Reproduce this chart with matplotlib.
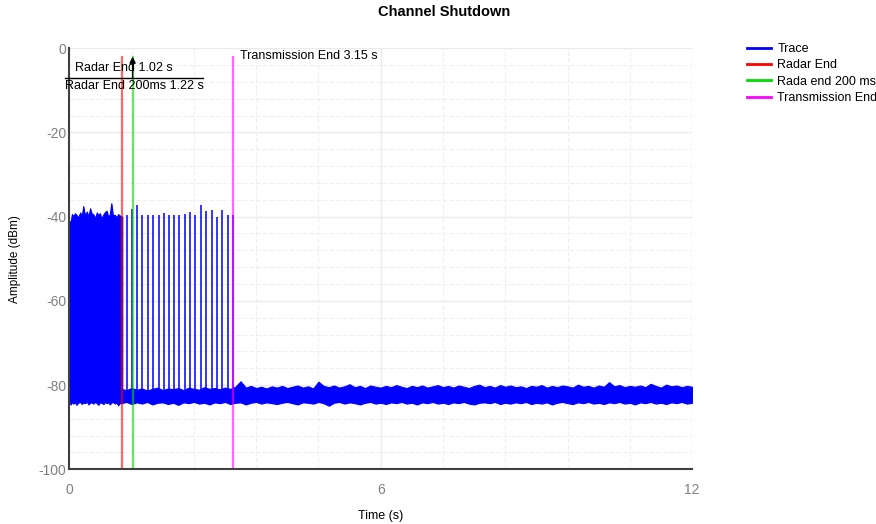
import matplotlib
matplotlib.use("Agg")
import matplotlib.pyplot as plt
from matplotlib.lines import Line2D
from matplotlib.ticker import MultipleLocator

plt.rcParams["font.family"] = ["Liberation Sans", "DejaVu Sans"]
plt.rcParams["axes.unicode_minus"] = False

# ---- data ----
dense_t = [0.00, 0.03, 0.05, 0.08, 0.11, 0.14, 0.17, 0.21, 0.24, 0.27, 0.30,
           0.34, 0.37, 0.40, 0.43, 0.46, 0.50, 0.53, 0.56, 0.59, 0.62, 0.66,
           0.69, 0.72, 0.75, 0.78, 0.81, 0.84, 0.88, 0.91, 0.94, 0.98, 1.02]
dense_top = [-41.2, -41.0, -39.4, -39.8, -39.2, -39.6, -40.2, -39.0, -39.8,
             -37.5, -39.6, -38.8, -40.0, -38.0, -39.2, -39.4, -40.3, -39.0,
             -39.6, -39.2, -40.4, -39.4, -38.9, -38.6, -40.0, -39.5, -36.8,
             -39.6, -39.6, -40.2, -39.4, -39.8, -40.0]
dense_bot = [-84.2, -84.6, -84.0, -84.4, -84.1, -84.7, -84.2, -84.0, -84.5,
             -84.1, -84.3, -84.0, -84.6, -84.2, -84.1, -84.4, -84.0, -84.3,
             -84.7, -84.1, -84.2, -84.5, -84.0, -84.3, -84.1, -84.6, -84.2,
             -84.0, -84.4, -84.1, -84.8, -84.2, -84.3]

floor_t = [1.0, 1.1, 1.2, 1.3, 1.4, 1.5, 1.6, 1.7, 1.8, 1.9,
           2.0, 2.1, 2.2, 2.3, 2.4, 2.5, 2.6, 2.7, 2.8, 2.9,
           3.0, 3.1, 3.2, 3.3, 3.4, 3.5, 3.6, 3.7, 3.8, 3.9,
           4.0, 4.1, 4.2, 4.3, 4.4, 4.5, 4.6, 4.7, 4.8, 4.9,
           5.0, 5.1, 5.2, 5.3, 5.4, 5.5, 5.6, 5.7, 5.8, 5.9,
           6.0, 6.1, 6.2, 6.3, 6.4, 6.5, 6.6, 6.7, 6.8, 6.9,
           7.0, 7.1, 7.2, 7.3, 7.4, 7.5, 7.6, 7.7, 7.8, 7.9,
           8.0, 8.1, 8.2, 8.3, 8.4, 8.5, 8.6, 8.7, 8.8, 8.9,
           9.0, 9.1, 9.2, 9.3, 9.4, 9.5, 9.6, 9.7, 9.8, 9.9,
           10.0, 10.1, 10.2, 10.3, 10.4, 10.5, 10.6, 10.7, 10.8, 10.9,
           11.0, 11.1, 11.2, 11.3, 11.4, 11.5, 11.6, 11.7, 11.8, 11.9,
           12.0]
floor_top = [-80.9, -81.2, -80.7, -81.1, -80.8, -81.3, -80.9, -80.6, -81.2, -80.8,
             -81.0, -80.7, -81.2, -80.6, -80.9, -81.1, -80.5, -80.9, -80.7, -81.0,
             -80.6, -80.9, -80.4, -79.1, -80.6, -80.2, -80.7, -80.4, -80.8, -80.3,
             -80.6, -80.2, -80.7, -80.4, -80.1, -80.6, -80.3, -80.8, -79.2, -80.2,
             -80.5, -80.1, -80.6, -80.3, -79.8, -80.5, -80.2, -80.7, -80.1, -80.4,
             -80.6, -80.2, -80.5, -80.0, -80.4, -80.7, -80.2, -80.5, -80.1, -80.6,
             -80.3, -80.0, -80.5, -80.2, -80.6, -80.1, -80.4, -80.7, -80.2, -79.9,
             -80.5, -80.2, -80.6, -80.0, -80.4, -80.1, -80.5, -80.3, -80.7, -80.2,
             -80.4, -80.0, -80.6, -80.2, -80.5, -80.1, -80.3, -80.6, -79.9, -80.4,
             -80.2, -80.6, -80.1, -80.4, -79.3, -80.3, -80.0, -80.5, -80.2, -80.4,
             -80.1, -80.5, -79.7, -80.2, -80.6, -79.9, -80.3, -80.1, -80.5, -80.2,
             -80.4]
floor_bot = [-84.3, -84.0, -84.5, -84.1, -84.4, -84.0, -84.6, -84.2, -84.1, -84.5,
             -84.2, -84.7, -84.1, -84.3, -84.0, -84.4, -84.2, -84.6, -84.1, -84.3,
             -84.0, -84.5, -84.2, -84.1, -84.6, -84.2, -84.0, -84.4, -84.1, -84.3,
             -84.5, -84.2, -84.0, -84.3, -84.6, -84.1, -84.2, -84.4, -84.0, -84.3,
             -84.9, -84.2, -84.0, -84.4, -84.1, -84.3, -84.6, -84.2, -84.0, -84.4,
             -84.2, -84.5, -84.1, -84.3, -84.0, -84.4, -84.2, -84.6, -84.1, -84.3,
             -84.0, -84.4, -84.2, -84.5, -84.1, -84.3, -84.0, -84.4, -84.6, -84.2,
             -84.1, -84.3, -84.0, -84.5, -84.2, -84.4, -84.1, -84.3, -84.0, -84.5,
             -84.2, -84.4, -84.1, -84.6, -84.2, -84.0, -84.3, -84.5, -84.1, -84.3,
             -84.0, -84.4, -84.2, -84.5, -84.1, -84.3, -84.0, -84.4, -84.2, -84.6,
             -84.1, -84.3, -84.0, -84.4, -84.2, -84.5, -84.1, -84.3, -84.0, -84.4,
             -84.2]

spike_t = [1.11, 1.21, 1.31, 1.41, 1.51, 1.61, 1.72, 1.82, 1.92, 2.02, 2.12,
           2.22, 2.33, 2.43, 2.53, 2.63, 2.74, 2.84, 2.94, 3.05, 3.15]
spike_top = [-39.7, -38.1, -37.3, -39.5, -39.5, -39.5, -39.5, -39.1, -39.7,
             -39.5, -39.5, -39.3, -38.9, -39.5, -37.3, -38.6, -38.5, -40.0,
             -38.4, -39.5, -39.5]

marker_names = ["Radar End", "Rada end 200 ms", "Transmission End"]
marker_t = [1.02, 1.22, 3.15]
marker_colors = ["#ff0000", "#00dd00", "#ff00ff"]

# ---- figure ----
fig = plt.figure(figsize=(8.76, 5.24), dpi=100)
ax = fig.add_axes([0.0791, 0.1044, 0.7110, 0.8036])

trace_color = "#0000ff"
ax.fill_between(dense_t, dense_bot, dense_top, color=trace_color, lw=0.8,
                edgecolor=trace_color, zorder=3)
ax.fill_between(floor_t, floor_bot, floor_top, color=trace_color, lw=0.8,
                edgecolor=trace_color, zorder=3)
ax.vlines(spike_t, -82.0, spike_top, color=trace_color, lw=1.3, alpha=0.85,
          zorder=3)

for t, c in zip(marker_t, marker_colors):
    ax.plot([t, t], [-2, -100], color=c, lw=1.6, alpha=0.6, zorder=4)

ax.set_xlim(0, 12)
ax.set_ylim(-100, 0)
ax.xaxis.set_major_locator(MultipleLocator(6))
ax.xaxis.set_minor_locator(MultipleLocator(1.2))
ax.yaxis.set_major_locator(MultipleLocator(20))
ax.yaxis.set_minor_locator(MultipleLocator(4))
ax.grid(which="major", color="#ebebeb", lw=1.0, zorder=0)
ax.grid(which="minor", color="#efefef", lw=0.8, ls=(0, (4, 2)), zorder=0)
ax.set_axisbelow(True)

for s in ["top", "right"]:
    ax.spines[s].set_visible(False)
for s in ["left", "bottom"]:
    ax.spines[s].set_color("#404040")
    ax.spines[s].set_linewidth(1.5)
    ax.spines[s].set_zorder(5)

ax.tick_params(which="both", length=0)
ax.tick_params(axis="x", pad=10, labelsize=10, labelcolor="#808080")
ax.tick_params(axis="y", pad=2, labelsize=10, labelcolor="#808080")

ax.set_xlabel("Time (s)", fontsize=9, labelpad=9)
ax.set_ylabel("Amplitude (dBm)", fontsize=8.5, labelpad=13)

fig.text(0.507, 0.977, "Channel Shutdown", ha="center", va="center",
         fontsize=10.5, fontweight="bold")

# annotations
ax.plot([-0.09, 2.58], [-7, -7], color="black", lw=1.0, clip_on=False, zorder=6)
ax.annotate("", xy=(1.22, -2.0), xytext=(1.22, -7.2),
            arrowprops=dict(arrowstyle="-|>", color="black", lw=1.0,
                            mutation_scale=9, shrinkA=0, shrinkB=0),
            zorder=6)
ax.text(0.11, -4.7, "Radar End 1.02 s", fontsize=9, va="center", ha="left",
        zorder=7)
ax.text(-0.09, -8.9, "Radar End 200ms 1.22 s", fontsize=9, va="center",
        ha="left", zorder=7, clip_on=False)
ax.text(3.29, -1.9, "Transmission End 3.15 s", fontsize=9, va="center",
        ha="left", zorder=7)

handles = [Line2D([], [], color=trace_color, lw=2)]
labels = ["Trace"]
for n, c in zip(marker_names, marker_colors):
    handles.append(Line2D([], [], color=c, lw=2))
    labels.append(n)
fig.legend(handles, labels, loc="upper left", bbox_to_anchor=(0.853, 0.918),
           frameon=False, fontsize=9, handlelength=1.9, handletextpad=0.5,
           labelspacing=0.35, borderaxespad=0, borderpad=0)

fig.savefig("out.png", dpi=100)
